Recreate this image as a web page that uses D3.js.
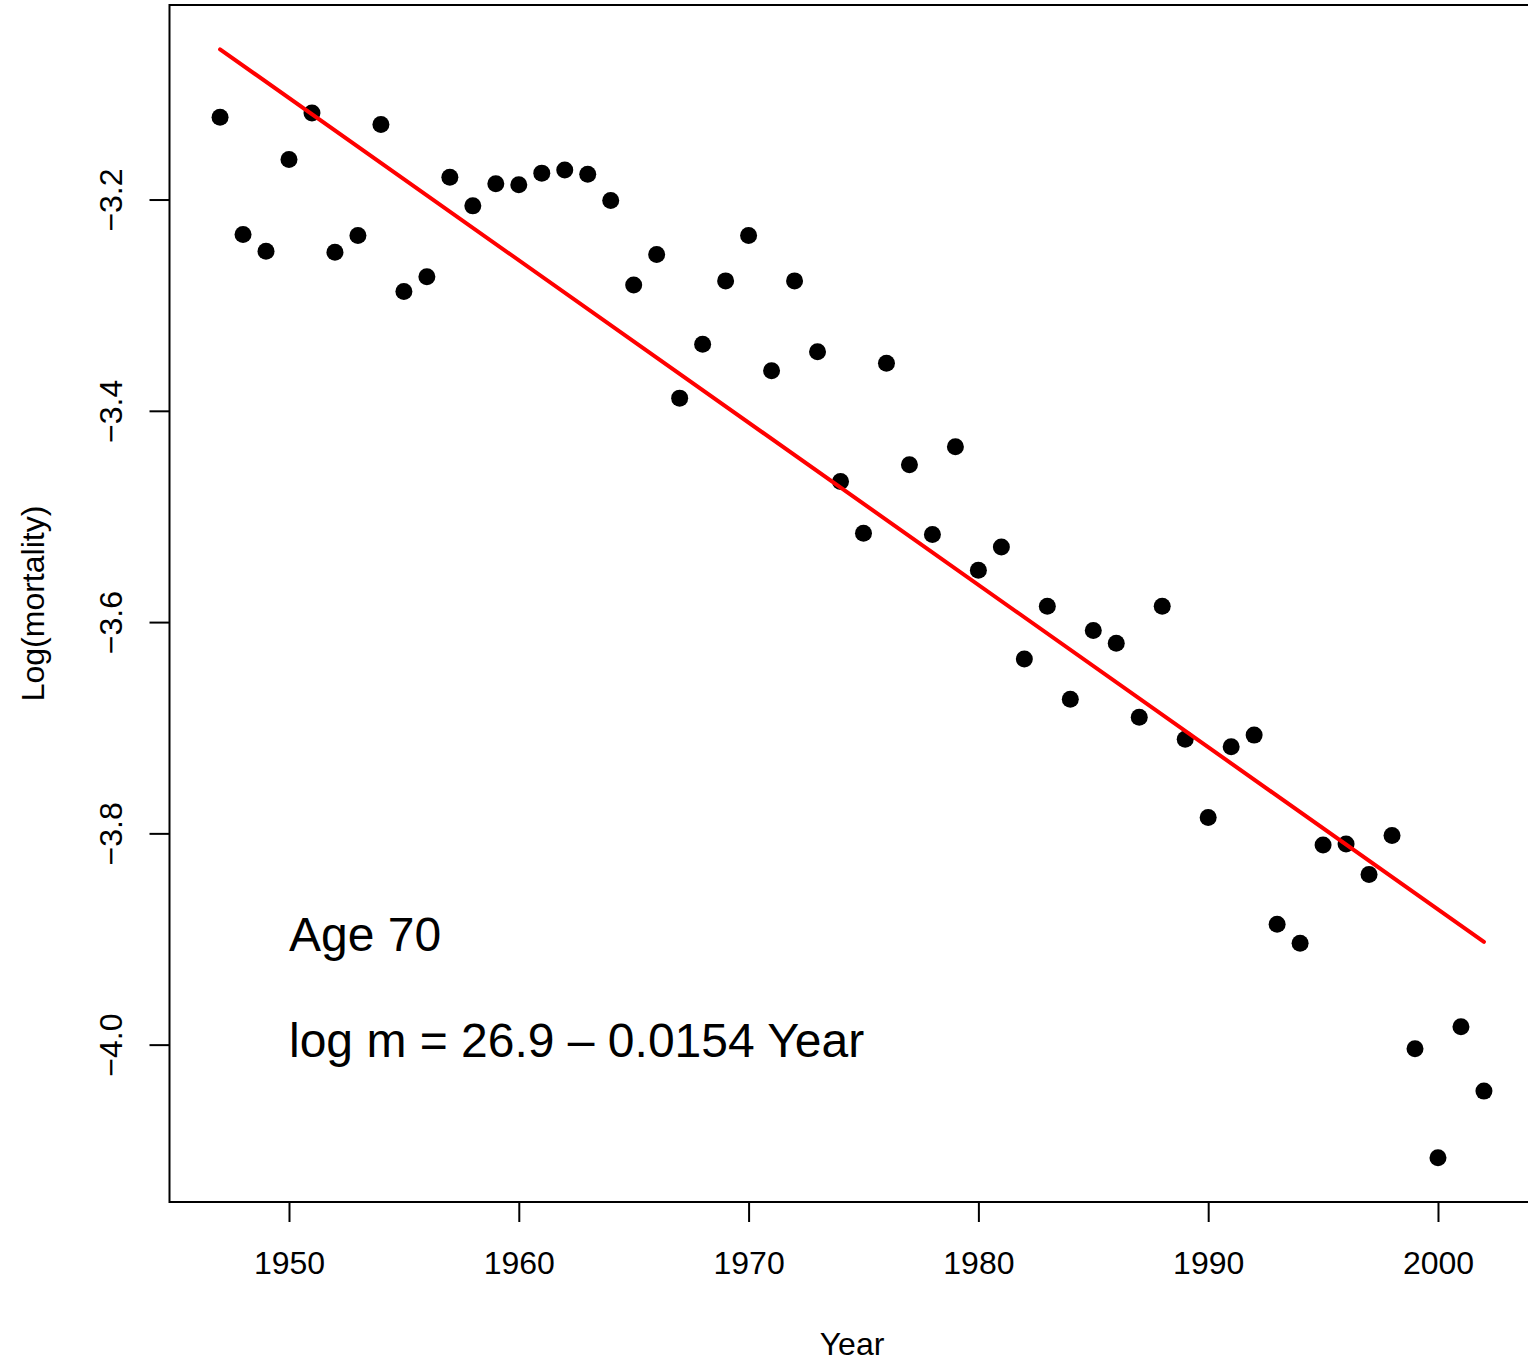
<!DOCTYPE html>
<html>
<head>
<meta charset="utf-8">
<title>Log mortality at age 70</title>
<script src="https://cdn.jsdelivr.net/npm/d3@7"></script>
<style>
  html, body { margin: 0; padding: 0; background: #ffffff; }
  svg { display: block; }
  text { font-family: "Liberation Sans", Arial, Helvetica, sans-serif; fill: #000; }
</style>
</head>
<body>
<svg id="chart" width="1528" height="1363"></svg>
<script>
// Calendar years of observation
const years = [
  1947, 1948, 1949, 1950, 1951, 1952, 1953, 1954, 1955, 1956,
  1957, 1958, 1959, 1960, 1961, 1962, 1963, 1964, 1965, 1966,
  1967, 1968, 1969, 1970, 1971, 1972, 1973, 1974, 1975, 1976,
  1977, 1978, 1979, 1980, 1981, 1982, 1983, 1984, 1985, 1986,
  1987, 1988, 1989, 1990, 1991, 1992, 1993, 1994, 1995, 1996,
  1997, 1998, 1999, 2000, 2001, 2002
];

// Log death rate at age 70 for each year
const logMortality = [
  -3.122, -3.233, -3.249, -3.162, -3.118, -3.250, -3.234, -3.129, -3.287, -3.273,
  -3.179, -3.206, -3.185, -3.186, -3.175, -3.172, -3.176, -3.201, -3.281, -3.252,
  -3.388, -3.337, -3.277, -3.234, -3.362, -3.277, -3.344, -3.467, -3.516, -3.355,
  -3.451, -3.517, -3.434, -3.551, -3.529, -3.635, -3.585, -3.673, -3.608, -3.620,
  -3.690, -3.585, -3.711, -3.785, -3.718, -3.707, -3.886, -3.904, -3.811, -3.810,
  -3.839, -3.802, -4.004, -4.107, -3.983, -4.044
];

// Least-squares fit: log m = intercept + slope * Year
const fitIntercept = 26.852;
const fitSlope = -0.015362;

// Axis ticks
const xTicks = [1950, 1960, 1970, 1980, 1990, 2000];
const yTicks = [-3.2, -3.4, -3.6, -3.8, -4.0];

// Axis titles and annotation
const xTitle = "Year";
const yTitle = "Log(mortality)";
const ageLabel = "Age 70";
const labelYear = 1950;
const labelLevels = [-3.9, -4.0];

const fmtMinus = s => s.replace("-", "\u2212");
const equationText = "log m = " + d3.format(".1f")(fitIntercept) + " \u2013 " +
  d3.format(".4f")(Math.abs(fitSlope)) + " Year";

const fitted = yr => fitIntercept + fitSlope * yr;
const fitEnds = d3.extent(years).map(yr => ({ yr, v: fitted(yr) }));

// Plot region
const plot = { left: 169.5, top: 5, right: 1534.5, bottom: 1202 };

// Ranges padded by 4% on both sides
function padded([a, b]) { const d = (b - a) * 0.04; return [a - d, b + d]; }
const xDom = padded(d3.extent(years));
const yDom = padded(d3.extent(logMortality.concat(fitEnds.map(d => d.v))));

const x = d3.scaleLinear().domain(xDom).range([plot.left, plot.right]);
const y = d3.scaleLinear().domain(yDom).range([plot.bottom, plot.top]);

const svg = d3.select("#chart");

// X axis
const xAxis = svg.append("g")
  .attr("transform", `translate(0,${plot.bottom})`)
  .call(d3.axisBottom(x).tickValues(xTicks).tickFormat(d3.format("d"))
    .tickSize(20).tickPadding(29));
xAxis.select(".domain").remove();
xAxis.selectAll(".tick line").attr("stroke", "#000").attr("stroke-width", 2);
xAxis.selectAll(".tick text")
  .style("font-size", "32px")
  .style("font-family", '"Liberation Sans", Arial, Helvetica, sans-serif')
  .attr("fill", "#000");

// Y axis with labels turned parallel to the axis
const yAxis = svg.append("g")
  .attr("transform", `translate(${plot.left},0)`)
  .call(d3.axisLeft(y).tickValues(yTicks)
    .tickFormat(d => fmtMinus(d3.format(".1f")(d))).tickSize(20));
yAxis.select(".domain").remove();
yAxis.selectAll(".tick line").attr("stroke", "#000").attr("stroke-width", 2);
yAxis.selectAll(".tick text")
  .attr("transform", "rotate(-90)")
  .attr("x", 0)
  .attr("y", -47.5)
  .attr("dy", null)
  .attr("text-anchor", "middle")
  .style("font-size", "32px")
  .style("font-family", '"Liberation Sans", Arial, Helvetica, sans-serif')
  .attr("fill", "#000");

// Frame around the plotting region
svg.append("rect")
  .attr("x", plot.left).attr("y", plot.top)
  .attr("width", plot.right - plot.left).attr("height", plot.bottom - plot.top)
  .attr("fill", "none").attr("stroke", "#000").attr("stroke-width", 2);

// Observed points
svg.append("g").selectAll("circle")
  .data(years.map((yr, i) => ({ yr, v: logMortality[i] })))
  .join("circle")
  .attr("cx", d => x(d.yr))
  .attr("cy", d => y(d.v))
  .attr("r", 8.5)
  .attr("fill", "#000");

// Fitted regression line
svg.append("path")
  .datum(fitEnds)
  .attr("d", d3.line().x(d => x(d.yr)).y(d => y(d.v)))
  .attr("fill", "none")
  .attr("stroke", "#ff0000")
  .attr("stroke-width", 4)
  .attr("stroke-linecap", "round");

// Axis titles
svg.append("text")
  .attr("x", (plot.left + plot.right) / 2)
  .attr("y", 1355)
  .attr("text-anchor", "middle")
  .style("font-size", "32px")
  .text(xTitle);

svg.append("text")
  .attr("transform", `translate(44,${(plot.top + plot.bottom) / 2}) rotate(-90)`)
  .attr("text-anchor", "middle")
  .style("font-size", "32px")
  .text(yTitle);

// Annotation
[ageLabel, equationText].forEach((t, i) => {
  svg.append("text")
    .attr("x", x(labelYear))
    .attr("y", y(labelLevels[i]))
    .attr("dy", "0.26em")
    .attr("text-anchor", "start")
    .style("font-size", "48px")
    .text(t);
});
</script>
</body>
</html>
